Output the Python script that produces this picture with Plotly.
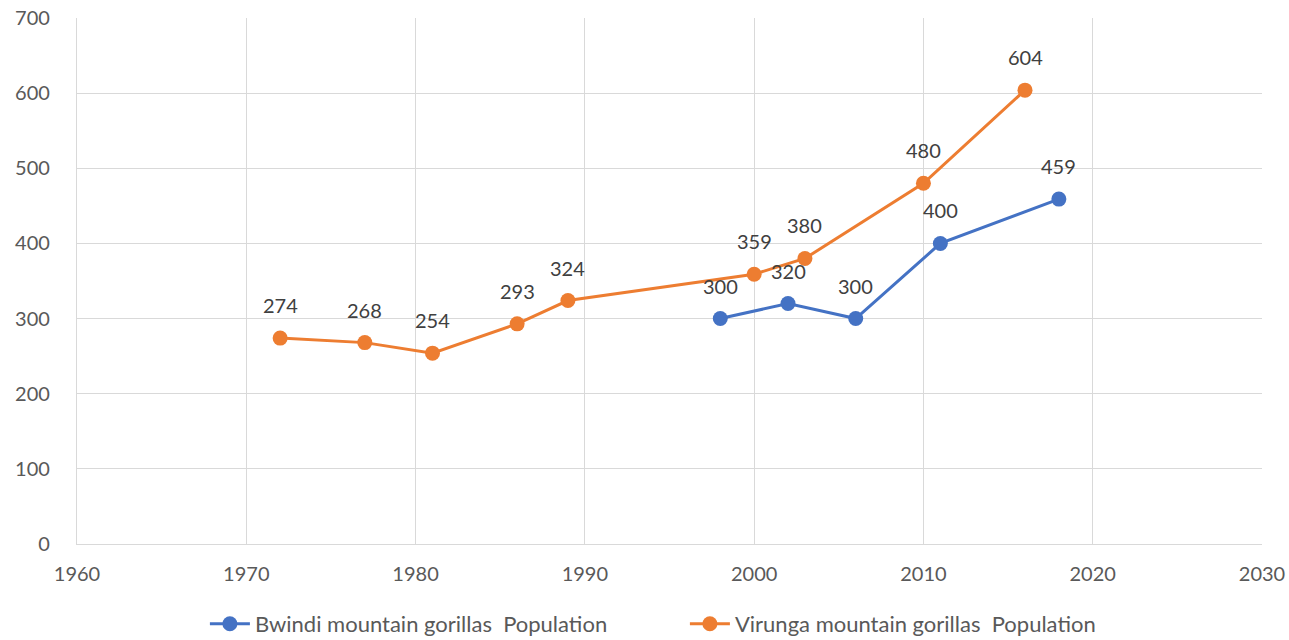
import plotly.graph_objects as go

bwindi_years = [1998, 2002, 2006, 2011, 2018]
bwindi_pop = [300, 320, 300, 400, 459]
virunga_years = [1972, 1977, 1981, 1986, 1989, 2000, 2003, 2010, 2016]
virunga_pop = [274, 268, 254, 293, 324, 359, 380, 480, 604]

BLUE = "#4472C4"
ORANGE = "#ED7D31"
TXT = "#595959"
FONT = "Lato"

fig = go.Figure()
fig.add_trace(go.Scatter(
    x=bwindi_years, y=bwindi_pop, mode="lines+markers",
    name="Bwindi mountain gorillas\u00a0 Population",
    line=dict(color=BLUE, width=3), marker=dict(size=15, color=BLUE)))
fig.add_trace(go.Scatter(
    x=virunga_years, y=virunga_pop, mode="lines+markers",
    name="Virunga mountain gorillas\u00a0 Population",
    line=dict(color=ORANGE, width=3), marker=dict(size=15, color=ORANGE)))

annotations = []
for xs, ys in ((bwindi_years, bwindi_pop), (virunga_years, virunga_pop)):
    for xv, yv in zip(xs, ys):
        annotations.append(dict(x=xv, y=yv, xref="x", yref="y", text=str(yv),
                                showarrow=False, yshift=33,
                                font=dict(family=FONT, size=20, color="#404040")))

fig.update_layout(
    width=1289, height=640,
    margin=dict(l=77, r=27, t=18, b=96, autoexpand=False),
    paper_bgcolor="white", plot_bgcolor="white",
    font=dict(family=FONT, size=20, color=TXT),
    annotations=annotations,
    showlegend=True,
    legend=dict(orientation="h", x=0.513, xanchor="center", xref="paper",
                y=-0.152, yref="paper", yanchor="middle",
                font=dict(family=FONT, size=22, color=TXT),
                itemwidth=40, entrywidth=425, tracegroupgap=0),
    xaxis=dict(range=[1960, 2030], dtick=10, tick0=1960, automargin=False,
               showgrid=True, gridcolor="#d9d9d9", gridwidth=1.3,
               zeroline=False, showline=True, linecolor="#d9d9d9", linewidth=1.3,
               ticks="", ticklabelstandoff=12,
               tickfont=dict(family=FONT, size=20, color=TXT)),
    yaxis=dict(range=[0, 700], dtick=100, automargin=False,
               showgrid=True, gridcolor="#d9d9d9", gridwidth=1.3,
               zeroline=False, showline=True, linecolor="#d9d9d9", linewidth=1.3,
               ticks="", ticklabelstandoff=22,
               tickfont=dict(family=FONT, size=20, color=TXT)),
)

fig.write_html("out.html", config={"displayModeBar": False},
               post_script="document.body.style.margin='0';document.body.style.overflow='hidden';")
